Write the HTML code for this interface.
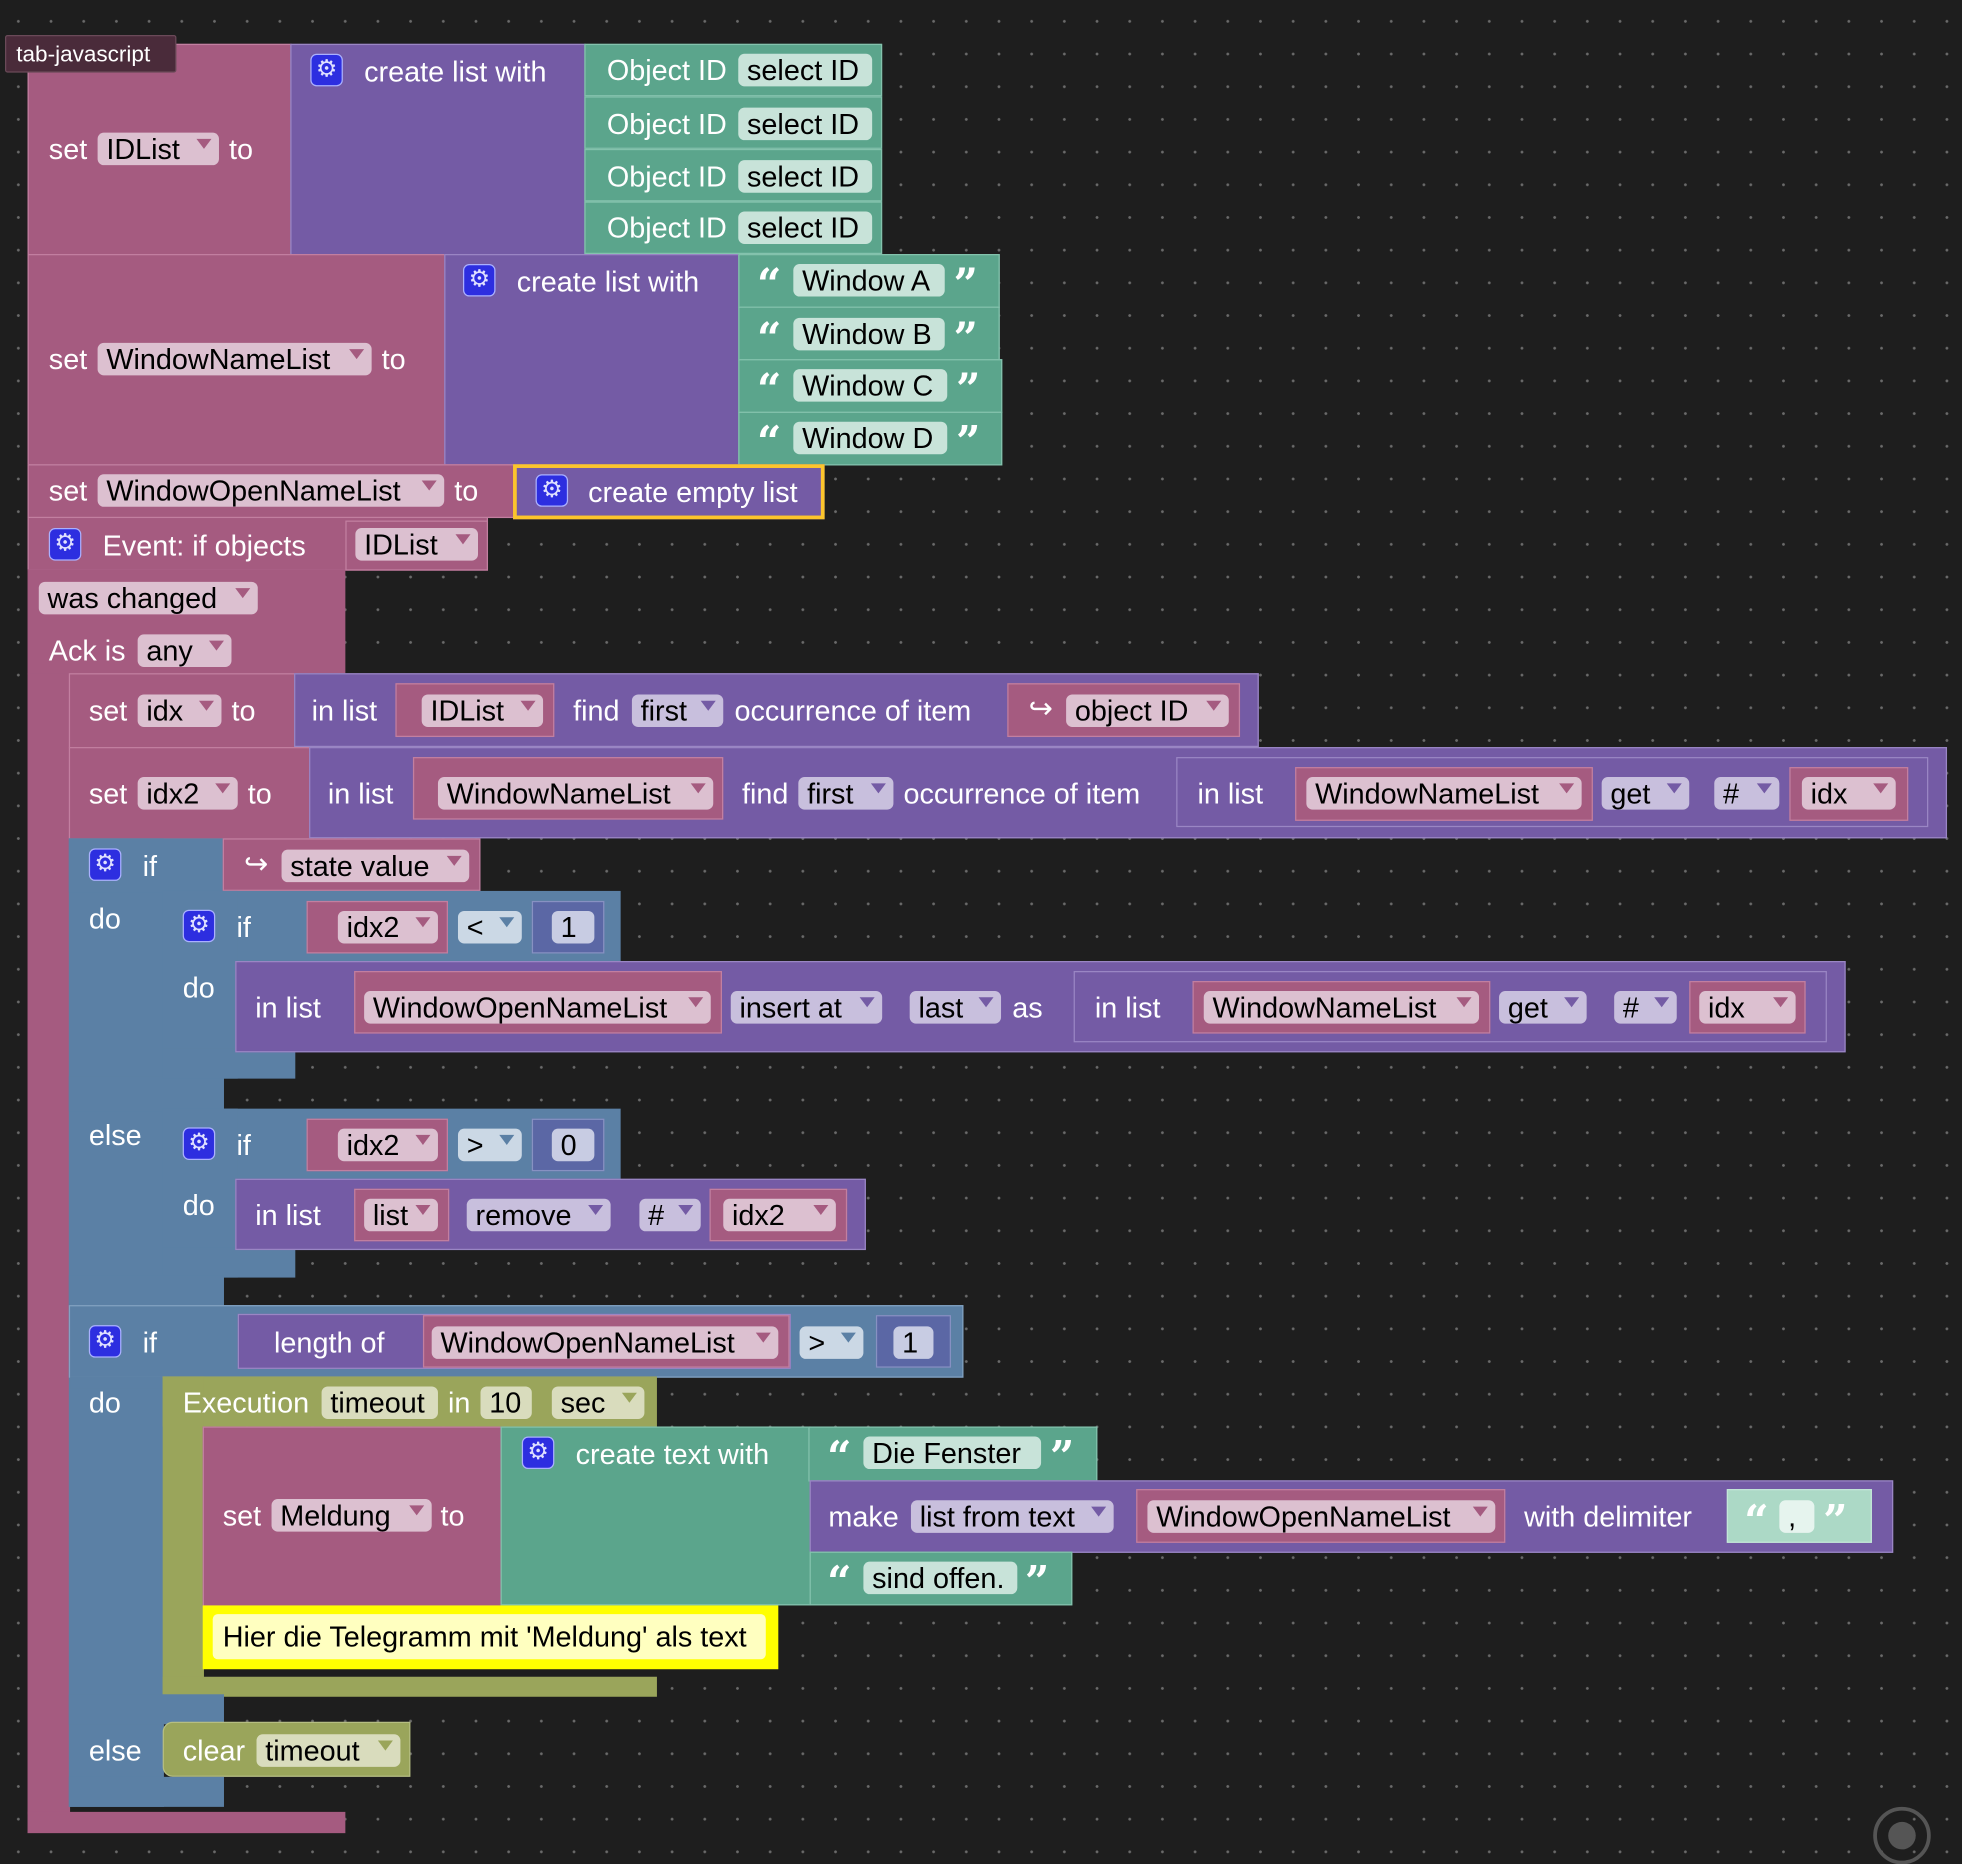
<!DOCTYPE html>
<html><head><meta charset="utf-8"><style>
html,body{margin:0;padding:0;background:#1e1e1e;width:1962px;height:1864px;overflow:hidden}
#bg{position:absolute;left:0;top:0;width:1962px;height:1864px;background-color:#1e1e1e;background-image:radial-gradient(circle,#6a6a6a 1.2px,transparent 1.6px);background-size:32.7px 32.7px;background-position:2px 5px}
#s{position:absolute;left:0;top:0;width:1568px;height:1490px;transform:scale(1.2513);transform-origin:0 0;font-family:"Liberation Sans",sans-serif}
#s div{position:absolute;box-sizing:border-box}
.m{background:#a55b80;border:1px solid #c27fa0}
.p{background:#745ba5;border:1px solid #9a86c4}
.g{background:#5ba58c;border:1px solid #84c2ad}
.b{background:#5b80a5;border:1px solid #82a2c2}
.o{background:#9aa55b;border:1px solid #b6be82}
.n{background:#5b67a5;border:1px solid #8791c2}
#s .nb{border:none}
.t{color:#fff;font-size:23px;line-height:26px;white-space:nowrap}
.f{height:26px;border-radius:5px;color:#000;font-size:23px;line-height:26px;padding-left:7px;white-space:nowrap}
.fm{background:#dcc0d0}.fp{background:#c8bfdd}.fb{background:#cbd8e5}.fg{background:#c8e3d9}.fo{background:#d9dcbd}.fn{background:#c8cce3}
.d::after{content:"";position:absolute;right:6px;top:5px;border-left:6px solid transparent;border-right:6px solid transparent;border-top:8px solid #a55b80}
.fp.d::after{border-top-color:#745ba5}.fb.d::after{border-top-color:#5b80a5}.fo.d::after{border-top-color:#9aa55b}
.gear{width:26px;height:26px;border-radius:5px;background:#2d2ee0;border:1.5px solid #aab0ff !important;color:#dfe0ff;font-size:19px;line-height:23px;text-align:center}
.q{color:#fff;font-size:34px;font-weight:bold;line-height:30px;font-family:"DejaVu Serif",serif}
</style></head><body><div id="bg"></div>
<div id="s">
<!-- event block body -->
<div class="m" style="left:22px;top:413px;width:368px;height:43px"></div>
<div class="m nb" style="left:22px;top:455px;width:254px;height:84px"></div>
<div class="m nb" style="left:22px;top:538px;width:34px;height:912px"></div>
<div class="m nb" style="left:22px;top:1448px;width:254px;height:17px"></div>

<!-- block1 -->
<div class="m" style="left:22px;top:35px;width:211px;height:169px"></div>
<div class="t" style="left:39px;top:106px">set</div>
<div class="f fm d" style="left:78px;top:106px;width:97px">IDList</div>
<div class="t" style="left:183px;top:106px">to</div>
<div class="p" style="left:232px;top:35px;width:236px;height:169px"></div>
<div class="gear" style="left:248px;top:43px">⚙</div>
<div class="t" style="left:291px;top:44px">create list with</div>
<div class="g" style="left:467px;top:35px;width:238px;height:42px"></div>
<div class="g" style="left:467px;top:77px;width:238px;height:42px"></div>
<div class="g" style="left:467px;top:119px;width:238px;height:42px"></div>
<div class="g" style="left:467px;top:161px;width:238px;height:42px"></div>
<div class="t" style="left:485px;top:43px">Object ID</div><div class="f fg" style="left:590px;top:43px;width:107px">select ID</div>
<div class="t" style="left:485px;top:86px">Object ID</div><div class="f fg" style="left:590px;top:86px;width:107px">select ID</div>
<div class="t" style="left:485px;top:128px">Object ID</div><div class="f fg" style="left:590px;top:128px;width:107px">select ID</div>
<div class="t" style="left:485px;top:169px">Object ID</div><div class="f fg" style="left:590px;top:169px;width:107px">select ID</div>

<!-- block2 -->
<div class="m" style="left:22px;top:203px;width:334px;height:169px"></div>
<div class="t" style="left:39px;top:274px">set</div>
<div class="f fm d" style="left:78px;top:274px;width:219px">WindowNameList</div>
<div class="t" style="left:305px;top:274px">to</div>
<div class="p" style="left:355px;top:203px;width:236px;height:169px"></div>
<div class="gear" style="left:370px;top:211px">⚙</div>
<div class="t" style="left:413px;top:212px">create list with</div>
<div class="g" style="left:590px;top:203px;width:209px;height:43px"></div>
<div class="g" style="left:590px;top:245px;width:209px;height:43px"></div>
<div class="g" style="left:590px;top:287px;width:211px;height:43px"></div>
<div class="g" style="left:590px;top:329px;width:211px;height:43px"></div>
<div class="q" style="left:605px;top:213px">“</div><div class="f fg" style="left:634px;top:211px;width:121px">Window A</div><div class="q" style="left:762px;top:213px">”</div>
<div class="q" style="left:605px;top:256px">“</div><div class="f fg" style="left:634px;top:254px;width:121px">Window B</div><div class="q" style="left:762px;top:256px">”</div>
<div class="q" style="left:605px;top:297px">“</div><div class="f fg" style="left:634px;top:295px;width:123px">Window C</div><div class="q" style="left:764px;top:297px">”</div>
<div class="q" style="left:605px;top:339px">“</div><div class="f fg" style="left:634px;top:337px;width:123px">Window D</div><div class="q" style="left:764px;top:339px">”</div>

<!-- block3 -->
<div class="m" style="left:22px;top:371px;width:390px;height:43px"></div>
<div class="t" style="left:39px;top:379px">set</div>
<div class="f fm d" style="left:78px;top:379px;width:277px">WindowOpenNameList</div>
<div class="t" style="left:363px;top:379px">to</div>
<div class="p" style="left:410px;top:371px;width:249px;height:44px;border:3px solid #fcc52c"></div>
<div class="gear" style="left:428px;top:379px">⚙</div>
<div class="t" style="left:470px;top:380px">create empty list</div>

<!-- tab label -->
<div style="left:4px;top:28px;width:137px;height:30px;background:#4a2b3a;border:1px solid #6a4a58;border-radius:2px;color:#fff;font-size:18px;line-height:28px;padding-left:8px">tab-javascript</div>

<!-- event header -->
<div class="gear" style="left:39px;top:422px">⚙</div>
<div class="t" style="left:82px;top:423px">Event: if objects</div>
<div class="m" style="left:276px;top:416px;width:114px;height:40px"></div>
<div class="f fm d" style="left:284px;top:422px;width:98px">IDList</div>
<div class="f fm d" style="left:31px;top:465px;width:175px">was changed</div>
<div class="t" style="left:39px;top:507px">Ack is</div>
<div class="f fm d" style="left:110px;top:507px;width:75px">any</div>

<!-- set idx -->
<div class="m" style="left:55px;top:538px;width:181px;height:60px"></div>
<div class="t" style="left:71px;top:555px">set</div>
<div class="f fm d" style="left:110px;top:555px;width:67px">idx</div>
<div class="t" style="left:185px;top:555px">to</div>
<div class="p" style="left:235px;top:538px;width:771px;height:59px"></div>
<div class="t" style="left:249px;top:555px">in list</div>
<div class="m" style="left:316px;top:546px;width:127px;height:43px"></div>
<div class="f fm d" style="left:337px;top:555px;width:97px">IDList</div>
<div class="t" style="left:458px;top:555px">find</div>
<div class="f fp d" style="left:505px;top:555px;width:73px">first</div>
<div class="t" style="left:587px;top:555px">occurrence of item</div>
<div class="m" style="left:805px;top:546px;width:186px;height:43px"></div>
<div class="t" style="left:822px;top:553px">↪</div>
<div class="f fm d" style="left:852px;top:555px;width:130px">object ID</div>

<!-- set idx2 -->
<div class="m" style="left:55px;top:597px;width:193px;height:74px"></div>
<div class="t" style="left:71px;top:621px">set</div>
<div class="f fm d" style="left:110px;top:621px;width:80px">idx2</div>
<div class="t" style="left:198px;top:621px">to</div>
<div class="p" style="left:247px;top:597px;width:1309px;height:73px"></div>
<div class="t" style="left:262px;top:621px">in list</div>
<div class="m" style="left:330px;top:605px;width:248px;height:50px"></div>
<div class="f fm d" style="left:350px;top:621px;width:220px">WindowNameList</div>
<div class="t" style="left:593px;top:621px">find</div>
<div class="f fp d" style="left:638px;top:621px;width:76px">first</div>
<div class="t" style="left:722px;top:621px">occurrence of item</div>
<div class="p" style="left:940px;top:605px;width:601px;height:56px"></div>
<div class="t" style="left:957px;top:621px">in list</div>
<div class="m" style="left:1035px;top:613px;width:238px;height:43px"></div>
<div class="f fm d" style="left:1044px;top:621px;width:220px">WindowNameList</div>
<div class="f fp d" style="left:1280px;top:621px;width:70px">get</div>
<div class="f fp d" style="left:1370px;top:621px;width:52px">#</div>
<div class="m" style="left:1430px;top:613px;width:95px;height:43px"></div>
<div class="f fm d" style="left:1440px;top:621px;width:75px">idx</div>

<!-- if block 1 -->
<div class="b nb" style="left:55px;top:670px;width:76px;height:774px"></div>
<div class="b nb" style="left:55px;top:670px;width:124px;height:43px"></div>
<div class="b nb" style="left:55px;top:860px;width:124px;height:28px"></div>
<div class="gear" style="left:71px;top:678px">⚙</div>
<div class="t" style="left:114px;top:679px">if</div>
<div class="m" style="left:178px;top:670px;width:206px;height:42px"></div>
<div class="t" style="left:195px;top:677px">↪</div>
<div class="f fm d" style="left:225px;top:679px;width:150px">state value</div>
<div class="t" style="left:71px;top:721px">do</div>

<!-- inner if a -->
<div class="b nb" style="left:130px;top:712px;width:366px;height:57px"></div>
<div class="b nb" style="left:130px;top:712px;width:60px;height:150px"></div>
<div class="b nb" style="left:130px;top:838px;width:106px;height:24px"></div>
<div class="gear" style="left:146px;top:727px">⚙</div>
<div class="t" style="left:189px;top:728px">if</div>
<div class="m" style="left:245px;top:720px;width:113px;height:42px"></div>
<div class="f fm d" style="left:270px;top:728px;width:80px">idx2</div>
<div class="f fb d" style="left:366px;top:728px;width:51px">&lt;</div>
<div class="n" style="left:425px;top:720px;width:58px;height:42px"></div>
<div class="f fn" style="left:441px;top:728px;width:34px">1</div>
<div class="t" style="left:146px;top:776px">do</div>
<div class="p" style="left:188px;top:768px;width:1287px;height:73px"></div>
<div class="t" style="left:204px;top:792px">in list</div>
<div class="m" style="left:283px;top:776px;width:294px;height:50px"></div>
<div class="f fm d" style="left:291px;top:792px;width:277px">WindowOpenNameList</div>
<div class="f fp d" style="left:584px;top:792px;width:121px">insert at</div>
<div class="f fp d" style="left:727px;top:792px;width:73px">last</div>
<div class="t" style="left:809px;top:792px">as</div>
<div class="p" style="left:858px;top:776px;width:602px;height:57px"></div>
<div class="t" style="left:875px;top:792px">in list</div>
<div class="m" style="left:953px;top:784px;width:238px;height:42px"></div>
<div class="f fm d" style="left:962px;top:792px;width:220px">WindowNameList</div>
<div class="f fp d" style="left:1198px;top:792px;width:70px">get</div>
<div class="f fp d" style="left:1290px;top:792px;width:50px">#</div>
<div class="m" style="left:1350px;top:784px;width:93px;height:42px"></div>
<div class="f fm d" style="left:1358px;top:792px;width:77px">idx</div>

<div class="t" style="left:71px;top:894px">else</div>
<!-- inner if b -->
<div class="b nb" style="left:130px;top:886px;width:366px;height:57px"></div>
<div class="b nb" style="left:130px;top:886px;width:60px;height:135px"></div>
<div class="b nb" style="left:130px;top:997px;width:106px;height:24px"></div>
<div class="gear" style="left:146px;top:901px">⚙</div>
<div class="t" style="left:189px;top:902px">if</div>
<div class="m" style="left:245px;top:894px;width:113px;height:42px"></div>
<div class="f fm d" style="left:270px;top:902px;width:80px">idx2</div>
<div class="f fb d" style="left:366px;top:902px;width:51px">&gt;</div>
<div class="n" style="left:425px;top:894px;width:58px;height:42px"></div>
<div class="f fn" style="left:441px;top:902px;width:34px">0</div>
<div class="t" style="left:146px;top:950px">do</div>
<div class="p" style="left:188px;top:942px;width:504px;height:57px"></div>
<div class="t" style="left:204px;top:958px">in list</div>
<div class="m" style="left:283px;top:950px;width:76px;height:42px"></div>
<div class="f fm d" style="left:291px;top:958px;width:59px">list</div>
<div class="f fp d" style="left:373px;top:958px;width:115px">remove</div>
<div class="f fp d" style="left:511px;top:958px;width:49px">#</div>
<div class="m" style="left:567px;top:950px;width:110px;height:42px"></div>
<div class="f fm d" style="left:578px;top:958px;width:90px">idx2</div>
<div class="b nb" style="left:55px;top:1019px;width:124px;height:25px"></div>

<!-- if block 2 -->
<div class="b" style="left:55px;top:1043px;width:715px;height:58px"></div>
<div class="gear" style="left:71px;top:1059px">⚙</div>
<div class="t" style="left:114px;top:1060px">if</div>
<div class="p" style="left:190px;top:1050px;width:442px;height:44px"></div>
<div class="t" style="left:219px;top:1060px">length of</div>
<div class="m" style="left:338px;top:1051px;width:293px;height:42px"></div>
<div class="f fm d" style="left:345px;top:1060px;width:277px">WindowOpenNameList</div>
<div class="f fb d" style="left:639px;top:1060px;width:51px">&gt;</div>
<div class="n" style="left:700px;top:1051px;width:60px;height:42px"></div>
<div class="f fn" style="left:714px;top:1060px;width:32px">1</div>
<div class="b nb" style="left:56px;top:1100px;width:74px;height:10px"></div>
<div class="t" style="left:71px;top:1108px">do</div>

<!-- execution -->
<div class="o nb" style="left:130px;top:1100px;width:395px;height:40px"></div>
<div class="o nb" style="left:130px;top:1100px;width:33px;height:256px"></div>
<div class="o nb" style="left:130px;top:1340px;width:395px;height:16px"></div>
<div class="t" style="left:146px;top:1108px">Execution</div>
<div class="f fo" style="left:257px;top:1108px;width:93px">timeout</div>
<div class="t" style="left:358px;top:1108px">in</div>
<div class="f fo" style="left:384px;top:1108px;width:41px">10</div>
<div class="f fo d" style="left:441px;top:1108px;width:74px">sec</div>

<div class="m" style="left:162px;top:1140px;width:239px;height:144px"></div>
<div class="t" style="left:178px;top:1198px">set</div>
<div class="f fm d" style="left:217px;top:1198px;width:128px">Meldung</div>
<div class="t" style="left:352px;top:1198px">to</div>
<div class="g" style="left:400px;top:1140px;width:248px;height:143px"></div>
<div class="g" style="left:646px;top:1140px;width:231px;height:44px"></div>
<div class="gear" style="left:417px;top:1148px">⚙</div>
<div class="t" style="left:460px;top:1149px">create text with</div>
<div class="q" style="left:661px;top:1150px">“</div><div class="f fg" style="left:690px;top:1148px;width:142px">Die Fenster</div><div class="q" style="left:839px;top:1150px">”</div>
<div class="p" style="left:647px;top:1183px;width:866px;height:58px"></div>
<div class="t" style="left:662px;top:1199px">make</div>
<div class="f fp d" style="left:728px;top:1199px;width:162px">list from text</div>
<div class="m" style="left:908px;top:1190px;width:295px;height:43px"></div>
<div class="f fm d" style="left:917px;top:1199px;width:278px">WindowOpenNameList</div>
<div class="t" style="left:1218px;top:1199px">with delimiter</div>
<div style="left:1380px;top:1190px;width:116px;height:43px;background:#acd9c6;border:1px solid #c4e6d8"></div>
<div class="q" style="left:1394px;top:1201px">“</div><div class="f" style="left:1422px;top:1199px;width:28px;background:#e6f4ee">,</div><div class="q" style="left:1457px;top:1201px">”</div>
<div class="g" style="left:647px;top:1240px;width:210px;height:43px"></div>
<div class="q" style="left:661px;top:1250px">“</div><div class="f fg" style="left:690px;top:1248px;width:123px">sind offen.</div><div class="q" style="left:819px;top:1250px">”</div>

<div style="left:162px;top:1283px;width:460px;height:51px;background:#ffff00"></div>
<div style="left:170px;top:1290px;width:442px;height:36px;background:#ffffc0;border-radius:4px;color:#000;font-size:23px;line-height:36px;padding-left:8px;white-space:nowrap">Hier die Telegramm mit 'Meldung' als text</div>

<div class="b nb" style="left:55px;top:1354px;width:124px;height:24px"></div>
<div class="t" style="left:71px;top:1386px">else</div>
<div class="o" style="left:130px;top:1376px;width:198px;height:44px;border-radius:8px 0 0 8px"></div>
<div class="t" style="left:146px;top:1386px">clear</div>
<div class="f fo d" style="left:205px;top:1386px;width:115px">timeout</div>
<div class="b nb" style="left:55px;top:1420px;width:124px;height:24px"></div>

<!-- target icon -->
<div style="left:1497px;top:1444px;width:46px;height:46px;border-radius:50%;border:3px solid #555"></div>
<div style="left:1509px;top:1456px;width:22px;height:22px;border-radius:50%;background:#555"></div>
</div>
</body></html>
